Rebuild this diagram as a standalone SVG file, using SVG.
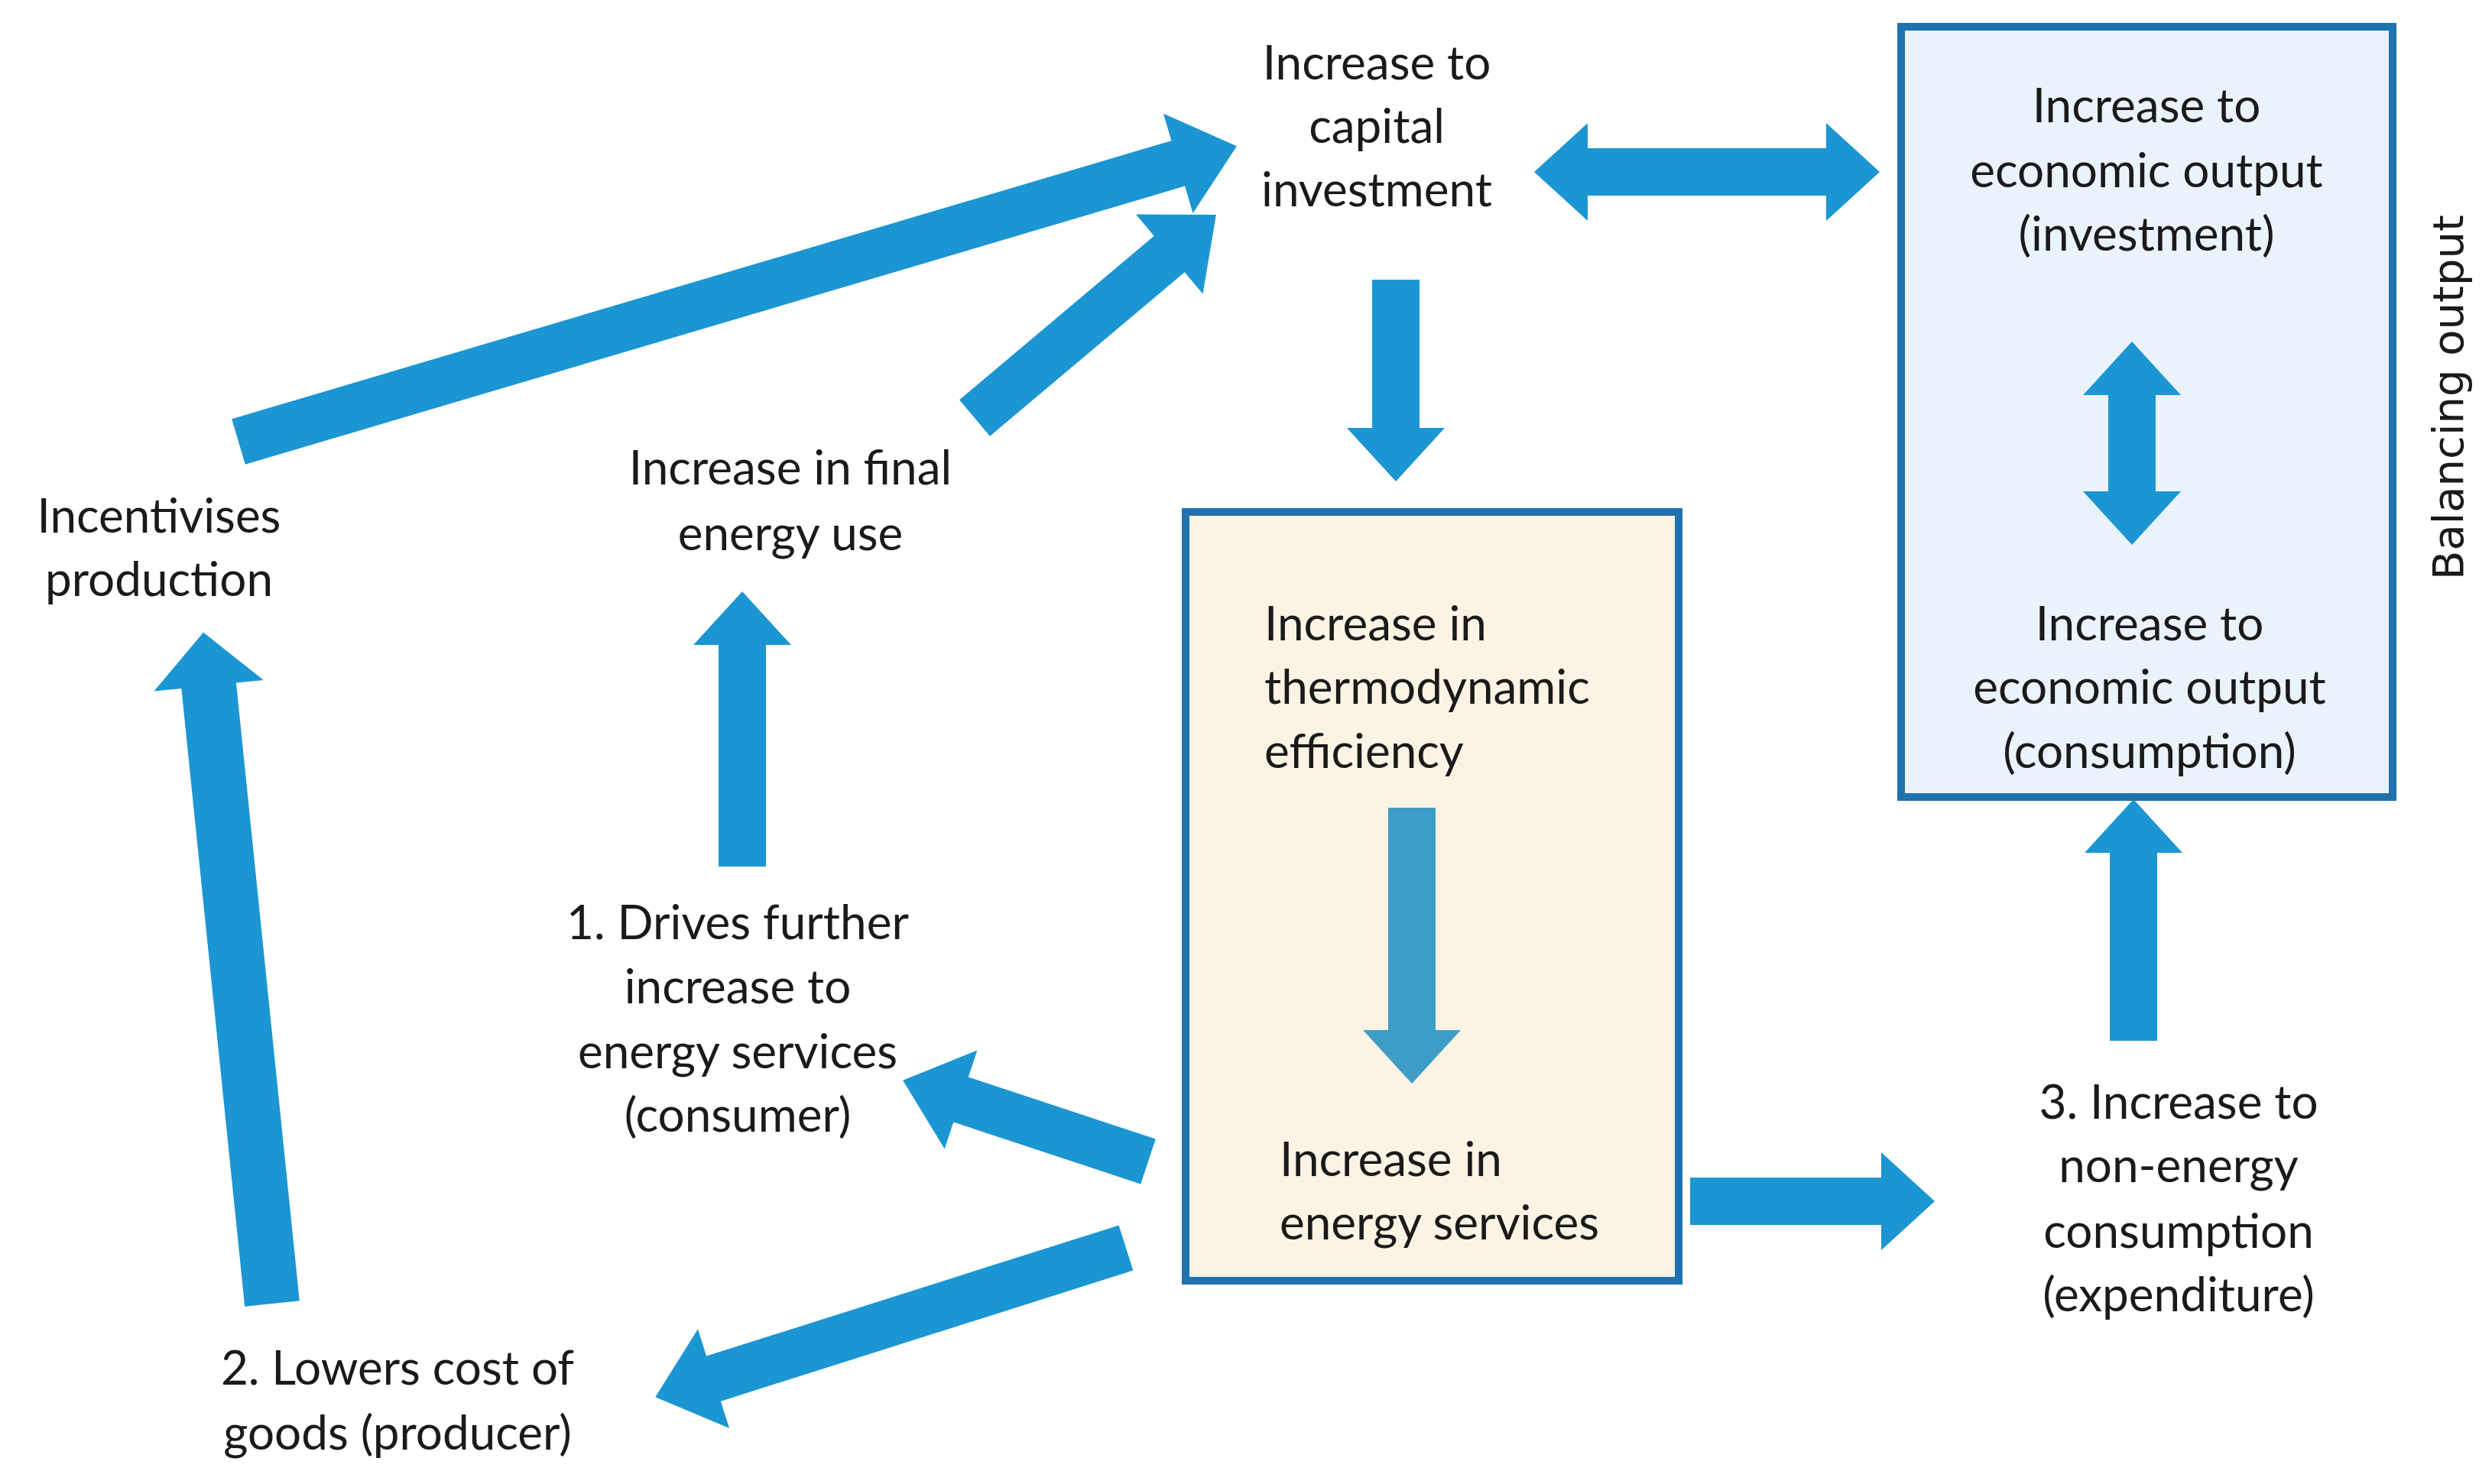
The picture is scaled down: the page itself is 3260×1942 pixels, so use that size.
<svg xmlns="http://www.w3.org/2000/svg" width="3260" height="1942" viewBox="0 0 3260 1942">
<style>
.t{font-family:Lato,"Open Sans","Liberation Sans",sans-serif;font-size:62px;fill:#1a1a1a;text-anchor:middle}
.l{text-anchor:start}
.a{fill:#1b96d3}
.box{stroke:#1e72ad;stroke-width:10}
</style>
<rect width="3260" height="1942" fill="#fff"/>
<g id="box-output"><rect class="box" x="2487" y="35" width="643" height="1008" fill="#eaf2fb"/></g>
<g id="box-efficiency"><rect class="box" x="1551" y="670" width="645" height="1006" fill="#fbf3e3"/></g>
<g id="connectors">
<path class="a" transform="translate(1826,366) rotate(90)" d="M0,-31 L194,-31 L194,-64 L264,0 L194,64 L194,31 L0,31 Z"/>
<path class="a" transform="translate(2007,225)" d="M0,0 L70,-64 L70,-31 L382,-31 L382,-64 L452,0 L382,64 L382,31 L70,31 L70,64 Z"/>
<path class="a" transform="translate(2789,447) rotate(90)" d="M0,0 L70,-64 L70,-31 L196,-31 L196,-64 L266,0 L196,64 L196,31 L70,31 L70,64 Z"/>
<path class="a" transform="translate(2791,1362) rotate(-90)" d="M0,-31 L246,-31 L246,-64 L316,0 L246,64 L246,31 L0,31 Z"/>
<path class="a" transform="translate(2211,1572)" d="M0,-31 L250,-31 L250,-64 L320,0 L250,64 L250,31 L0,31 Z"/>
<path fill="#3d9dc6" transform="translate(1847,1057) rotate(90)" d="M0,-31 L291,-31 L291,-64 L361,0 L291,64 L291,31 L0,31 Z"/>
<path class="a" transform="translate(971,1134) rotate(-90)" d="M0,-31 L290,-31 L290,-64 L360,0 L290,64 L290,31 L0,31 Z"/>
<path class="a" transform="translate(1275,547) rotate(-40.1)" d="M0,-31 L333,-31 L333,-68 L413,0 L333,68 L333,31 L0,31 Z"/>
<path class="a" transform="translate(312,578) rotate(-16.5)" d="M0,-31 L1282,-31 L1282,-68 L1362,0 L1282,68 L1282,31 L0,31 Z"/>
<path class="a" transform="translate(356,1706) rotate(-95.85)" d="M0,-36 L813,-36 L813,-72 L883,0 L813,72 L813,36 L0,36 Z"/>
<path class="a" transform="translate(1502,1520) rotate(198.3)" d="M0,-31 L258,-31 L258,-68 L338,0 L258,68 L258,31 L0,31 Z"/>
<path class="a" transform="translate(1473,1633) rotate(162.4)" d="M0,-31 L566,-31 L566,-68 L646,0 L566,68 L566,31 L0,31 Z"/>
</g>
<g id="n-capital"><text class="t" x="1801" y="104">Increase to</text><text class="t" x="1801" y="187">capital</text><text class="t" x="1801" y="270">investment</text></g>
<g id="n-econ-inv"><text class="t" x="2808" y="160">Increase to</text><text class="t" x="2808" y="245">economic output</text><text class="t" x="2808" y="328">(investment)</text></g>
<g id="n-econ-cons"><text class="t" x="2812" y="838">Increase to</text><text class="t" x="2812" y="921">economic output</text><text class="t" x="2812" y="1005">(consumption)</text></g>
<g id="n-thermo"><text class="t l" x="1654" y="838">Increase in</text><text class="t l" x="1654" y="921">thermodynamic</text><text class="t l" x="1654" y="1005">efficiency</text></g>
<g id="n-services"><text class="t l" x="1674" y="1539">Increase in</text><text class="t l" x="1674" y="1622">energy services</text></g>
<g id="n-nonenergy"><text class="t" x="2850" y="1464">3. Increase to</text><text class="t" x="2850" y="1547">non-energy</text><text class="t" x="2850" y="1633">consumption</text><text class="t" x="2850" y="1716">(expenditure)</text></g>
<g id="n-drives"><text class="t" x="965" y="1229">1. Drives further</text><text class="t" x="965" y="1313">increase to</text><text class="t" x="965" y="1398">energy services</text><text class="t" x="965" y="1481">(consumer)</text></g>
<g id="n-final"><text class="t" x="1034" y="634">Increase in final</text><text class="t" x="1034" y="720">energy use</text></g>
<g id="n-incent"><text class="t" x="208" y="697">Incentivises</text><text class="t" x="208" y="780">production</text></g>
<g id="n-lowers"><text class="t" x="520" y="1812">2. Lowers cost of</text><text class="t" x="520" y="1897">goods (producer)</text></g>
<g id="n-balancing"><text transform="translate(3222,520) rotate(-90)" style="font-family:'DejaVu Sans',sans-serif;font-size:56px;text-anchor:middle;fill:#1a1a1a">Balancing output</text></g>
</svg>
